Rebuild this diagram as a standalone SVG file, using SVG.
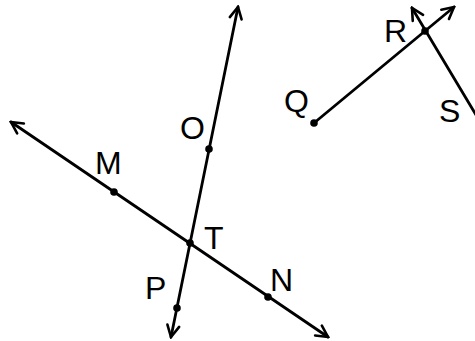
<svg xmlns="http://www.w3.org/2000/svg" width="475" height="341" viewBox="0 0 475 341">
<style>
.ln{stroke:#000;stroke-width:2.8;fill:none;stroke-linecap:round}
.dot{fill:#000}
.lbl{font-family:"Liberation Sans",Arial,sans-serif;font-size:32px;fill:#000}
</style>
<defs>
<marker id="arr" viewBox="0 0 16 16" refX="14" refY="8" markerWidth="16" markerHeight="16" markerUnits="userSpaceOnUse" orient="auto-start-reverse">
<path d="M2.5,2 L14,8 L2.5,14" fill="none" stroke="#000" stroke-width="2.6" stroke-linecap="round" stroke-linejoin="miter"/>
</marker>
</defs>
<rect width="475" height="341" fill="#fff"/>
<g id="connectors">
<line class="ln" x1="11" y1="122" x2="328" y2="337" marker-start="url(#arr)" marker-end="url(#arr)"/>
<line class="ln" x1="238" y1="7" x2="171" y2="337" marker-start="url(#arr)" marker-end="url(#arr)"/>
<line class="ln" x1="314" y1="123" x2="454" y2="7" marker-end="url(#arr)"/>
<line class="ln" x1="482" y1="125" x2="412" y2="8" marker-end="url(#arr)"/>
</g>
<g id="M"><circle class="dot" cx="114" cy="192" r="3.8"/><text class="lbl" x="95" y="174">M</text></g>
<g id="O"><circle class="dot" cx="209" cy="149" r="3.8"/><text class="lbl" x="180" y="139">O</text></g>
<g id="T"><circle class="dot" cx="190" cy="243" r="3.8"/><text class="lbl" x="204" y="249">T</text></g>
<g id="P"><circle class="dot" cx="177" cy="308" r="3.8"/><text class="lbl" x="145" y="299">P</text></g>
<g id="N"><circle class="dot" cx="268" cy="297" r="3.8"/><text class="lbl" x="270" y="291">N</text></g>
<g id="Q"><circle class="dot" cx="314" cy="123" r="3.8"/><text class="lbl" x="284" y="112">Q</text></g>
<g id="R"><circle class="dot" cx="425" cy="31" r="3.8"/><text class="lbl" x="384" y="42">R</text></g>
<g id="S"><text class="lbl" x="439" y="122">S</text></g>
</svg>
